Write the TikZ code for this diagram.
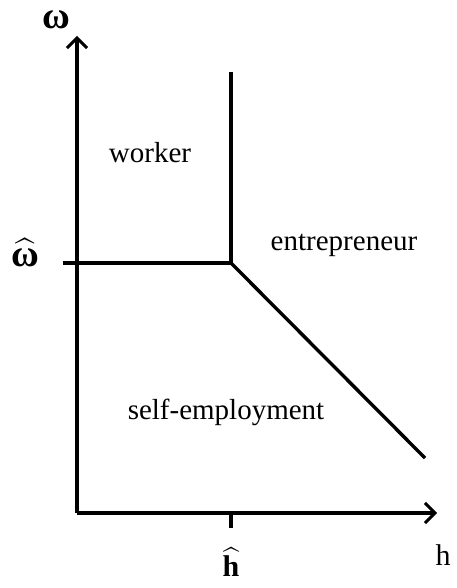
\documentclass[tikz,border=0pt]{standalone}
\usepackage{amsmath}
\usepackage{fontspec}
\setmainfont{Liberation Serif}
\usetikzlibrary{arrows.meta}

\newcommand{\wsym}{\textbf{ω}}

\begin{document}
\begin{tikzpicture}[
  x=0.5pt, y=-0.5pt,
  axis/.style={
    line width=1.8pt,
    -{Straight Barb[length=5pt,width=10pt,line width=1.5pt]}
  },
  border/.style={
    line width=1.7pt
  },
  region/.style={
    font=\fontsize{14.5}{17}\selectfont
  },
  axis label/.style={
    font=\fontsize{15}{17}\selectfont,
    inner sep=1pt
  },
  greek label/.style={
    axis label,
    font=\fontsize{19}{21}\selectfont
  }
]
\useasboundingbox (0,0) rectangle (456,588);

% Points
\coordinate (o) at (77,513);
\coordinate (ytip) at (77,36);
\coordinate (xtip) at (437,513);
\coordinate (wleft) at (63,263);
\coordinate (kink) at (231,263);
\coordinate (top) at (231,72);
\coordinate (end) at (425,458);
\coordinate (tick) at (231,528);

% Axes
\draw[axis] (o) -- (ytip);
\draw[axis] (o) -- (xtip);
\draw[border] (o -| kink) -- (tick);

% Borders between regions
\draw[border] (wleft) -- (kink) -- (top);
\draw[border] (kink) -- (end);

% Labels
\node[greek label] (w) at (56,20) {\wsym};
\node[greek label] (what) at (25,253) {$\widehat{\text{\wsym}}$};
\node[axis label] (hhat) at (231,562) {$\widehat{\text{\textbf{h}}}$};
\node[axis label] (h) at (443,555) {h};

\node[region] (worker) at (150,153) {worker};
\node[region] (entre) at (344,245) {entrepreneur};
\node[region] (self) at (226,412) {self-employment};

\end{tikzpicture}
\end{document}
